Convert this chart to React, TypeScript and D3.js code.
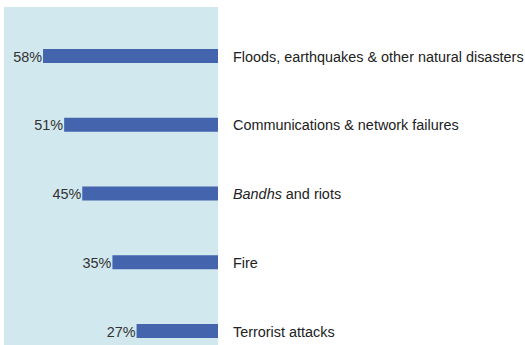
import React from "react";
import * as d3 from "d3";

const categories = [
  "Floods, earthquakes & other natural disasters",
  "Communications & network failures",
  "Bandhs and riots",
  "Fire",
  "Terrorist attacks",
];
const values = [58, 51, 45, 35, 27];
const italicPrefix = ["", "", "Bandhs", "", ""];

const W = 525;
const H = 345;
const FONT = "'Liberation Sans', Arial, Helvetica, sans-serif";
const SX = 0.93;

export default function App() {
  const panelLeft = 4;
  const panelRight = 218;
  const x = d3.scaleLinear().domain([0, 60]).range([panelRight, panelRight - 181]);
  const y = d3.scalePoint<string>().domain(categories).range([56, 331]);
  const barH = 14;
  const labelX = 233;

  return (
    <svg
      width={W}
      height={H}
      style={{ position: "absolute", left: 0, top: 0, background: "#fff" }}
      fontFamily={FONT}
    >
      <rect x={panelLeft} y={7} width={panelRight - panelLeft} height={H - 7} fill="#d1e8ee" />
      {categories.map((c, i) => {
        const cy = y(c) as number;
        const v = values[i];
        const pre = italicPrefix[i];
        const rest = pre ? c.slice(pre.length) : c;
        const vx = x(v) - 1;
        return (
          <g key={c}>
            <rect
              x={x(v)}
              y={cy - barH / 2}
              width={panelRight - x(v)}
              height={barH}
              fill="#4464ae"
            />
            <text
              transform={`translate(${vx},${cy}) scale(${SX},1)`}
              dy="0.36em"
              textAnchor="end"
              fontSize={15.5}
              fill="#333"
            >
              {v}%
            </text>
            <text
              transform={`translate(${labelX},${cy}) scale(${SX},1)`}
              dy="0.36em"
              fontSize={15.5}
              fill="#222"
            >
              {pre ? <tspan fontStyle="italic">{pre}</tspan> : null}
              {rest}
            </text>
          </g>
        );
      })}
    </svg>
  );
}
